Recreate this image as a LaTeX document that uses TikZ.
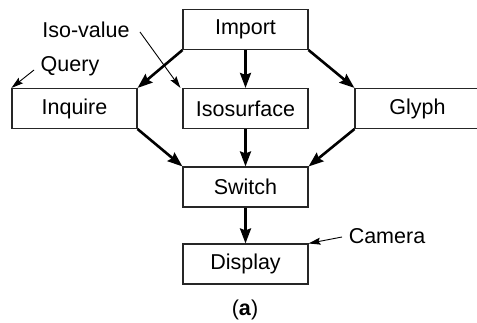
\documentclass[tikz,border=0pt]{standalone}
\usepackage{fontspec}
\setmainfont{Liberation Sans}
\usetikzlibrary{arrows.meta}
\begin{document}
\begin{tikzpicture}[x=1pt,y=-1pt,
  font=\fontsize{21.5}{24}\selectfont,
  module/.style={draw=black!85,line width=1.1pt,minimum width=125pt,minimum height=40pt,inner sep=0pt,fill=white},
  flow/.style={line width=2.6pt,-{Stealth[length=15pt,width=11pt,inset=2pt]}},
  hint/.style={line width=0.9pt,-{Stealth[length=12pt,width=7pt,inset=2pt]}},
  lbl/.style={inner sep=0pt}]
  \useasboundingbox (0,0) rectangle (477,323);

  % modules
  \node[module] (imp) at (245.5,29.5) {Import};
  \node[module] (inq) at (74.5,108.5) {Inquire};
  \node[module] (iso) at (245.5,108.5) {Isosurface};
  \node[module] (gly) at (417.5,108.5) {Glyph};
  \node[module] (sw)  at (245.5,187) {Switch};
  \node[module] (dis) at (245.5,264) {Display};

  % data flow
  \draw[flow] (imp.south west) -- (inq.north east);
  \draw[flow] (imp.south) -- (iso.north);
  \draw[flow] (imp.south east) -- (gly.north west);
  \draw[flow] (inq.south east) -- (sw.north west);
  \draw[flow] (iso.south) -- (sw.north);
  \draw[flow] (gly.south west) -- (sw.north east);
  \draw[flow] (sw.south) -- (dis.north);

  % parameter inputs
  \node[lbl] (isoval) at (86,30) {Iso-value};
  \coordinate (isovalend) at (140,32);
  \draw[hint] (isovalend) -- ([xshift=-2pt]iso.north west);

  \node[lbl] (query) at (70,66) {Query};
  \coordinate (queryend) at (34,70);
  \draw[hint] (queryend) -- (inq.north west);

  \node[lbl] (camera) at (387,236) {Camera};
  \coordinate (cameraend) at (342,237);
  \draw[hint] (cameraend) -- (dis.north east);

  \node[lbl] (cap) at (245,310) {(\textbf{a})};
\end{tikzpicture}
\end{document}
